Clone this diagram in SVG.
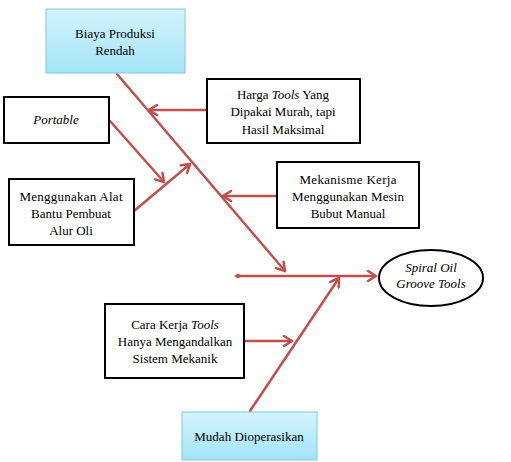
<svg xmlns="http://www.w3.org/2000/svg" width="511" height="462" viewBox="0 0 511 462">
<style>
.box{fill:#fff;stroke:#000;stroke-width:2}
.blue{fill:url(#bg);stroke:#7cc8e3;stroke-width:1}
text{font-family:"Times New Roman",Times,"Liberation Serif","DejaVu Serif","Noto Serif",serif;font-size:13px;fill:#000;text-anchor:middle}
.i{font-style:italic}
.c{fill:none;stroke:#c0504d;stroke-width:2.5;stroke-linecap:round}
</style>
<defs>
<linearGradient id="bg" x1="0" y1="0" x2="0" y2="1">
<stop offset="0" stop-color="#d3f4fd"/>
<stop offset="1" stop-color="#a3e3f6"/>
</linearGradient>
<marker id="a" markerWidth="12" markerHeight="12" refX="10" refY="6" orient="auto" markerUnits="userSpaceOnUse">
<path d="M2,1 L10,6 L2,11" fill="none" stroke="#c0504d" stroke-width="2.5" stroke-linecap="round" stroke-linejoin="round"/>
</marker>
<marker id="d" markerWidth="8" markerHeight="8" refX="4" refY="4" orient="auto" markerUnits="userSpaceOnUse">
<path d="M0,4 L4,1.5 L8,4 L4,6.5 Z" fill="#c0504d"/>
</marker>
</defs>
<g id="connectors">
<line class="c" x1="238" y1="276" x2="376" y2="276" marker-start="url(#d)" marker-end="url(#a)"/>
<line class="c" x1="117" y1="74" x2="285" y2="271" marker-end="url(#a)"/>
<line class="c" x1="250" y1="411" x2="339" y2="278" marker-end="url(#a)"/>
<line class="c" x1="207" y1="110" x2="149" y2="110" marker-end="url(#a)"/>
<line class="c" x1="277" y1="196" x2="223" y2="196" marker-end="url(#a)"/>
<line class="c" x1="110" y1="121" x2="164" y2="182" marker-end="url(#a)"/>
<line class="c" x1="134" y1="211" x2="190" y2="164" marker-end="url(#a)"/>
<line class="c" x1="245" y1="341" x2="292" y2="341" marker-end="url(#a)"/>
</g>
<g id="biaya">
<rect class="blue" x="46" y="9" width="139" height="64"/>
<text x="115" y="38">Biaya Produksi</text>
<text x="115" y="55">Rendah</text>
</g>
<g id="portable">
<rect class="box" x="4" y="97" width="105" height="46"/>
<text class="i" x="56" y="124">Portable</text>
</g>
<g id="harga">
<rect class="box" x="207" y="79" width="153" height="64"/>
<text x="283" y="99">Harga <tspan class="i">Tools</tspan> Yang</text>
<text x="283" y="116">Dipakai Murah, tapi</text>
<text x="283" y="134">Hasil Maksimal</text>
</g>
<g id="mekanisme">
<rect class="box" x="277" y="162" width="142" height="66"/>
<text x="348" y="184" textLength="97">Mekanisme Kerja</text>
<text x="348" y="201" textLength="112">Menggunakan Mesin</text>
<text x="348" y="218">Bubut Manual</text>
</g>
<g id="menggunakan">
<rect class="box" x="9" y="179" width="125" height="66"/>
<text x="71" y="201" textLength="103">Menggunakan Alat</text>
<text x="71" y="218">Bantu Pembuat</text>
<text x="71" y="235">Alur Oli</text>
</g>
<g id="spiral">
<ellipse cx="431" cy="278" rx="52" ry="28" fill="#fff" stroke="#000" stroke-width="2"/>
<text class="i" x="431" y="272">Spiral Oil</text>
<text class="i" x="431" y="288">Groove Tools</text>
</g>
<g id="cara">
<rect class="box" x="105" y="304" width="139" height="74"/>
<text x="175" y="329">Cara Kerja <tspan class="i">Tools</tspan></text>
<text x="175" y="346">Hanya Mengandalkan</text>
<text x="175" y="363">Sistem Mekanik</text>
</g>
<g id="mudah">
<rect class="blue" x="182" y="412" width="135" height="48"/>
<text x="249" y="441">Mudah Dioperasikan</text>
</g>
</svg>
